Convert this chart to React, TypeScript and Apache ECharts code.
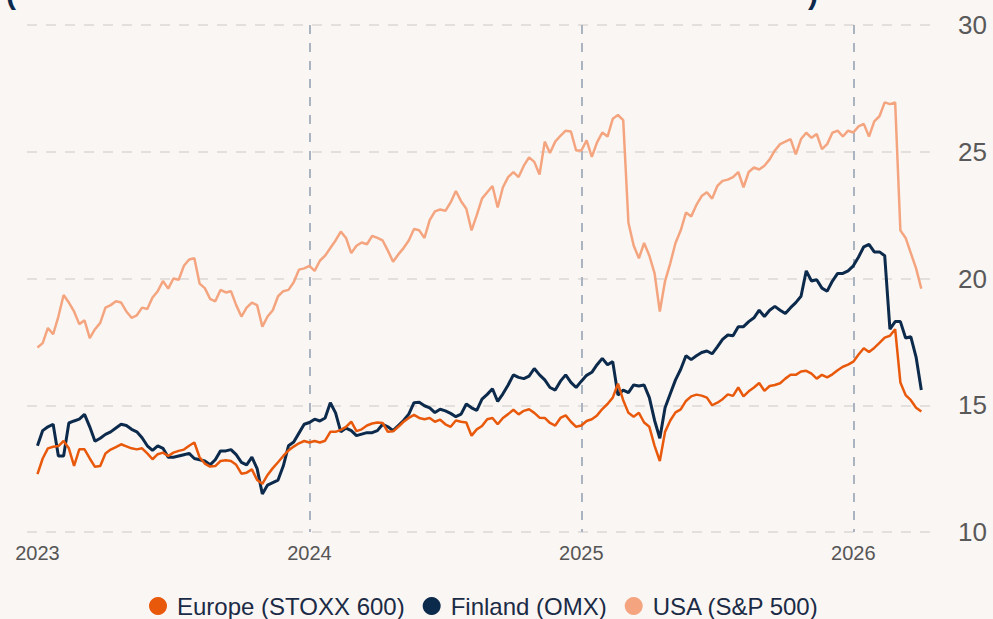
import React, { useEffect, useRef } from "react";
import * as echarts from "echarts";

// Weekly observations starting on this Monday
const startDate = "2023-01-02";
const yearLabels = ["2023", "2024", "2025", "2026"];
const seriesNames = ["Europe (STOXX 600)", "Finland (OMX)", "USA (S&P 500)"];

const europe = [
  12.28, 12.9, 13.3, 13.36, 13.39, 13.59, 13.3, 12.61, 13.26, 13.26,
  12.9, 12.57, 12.6, 13.1, 13.25, 13.35, 13.46, 13.38, 13.3, 13.26,
  13.3, 13.1, 12.87, 13.07, 13.13, 13.0, 13.13, 13.2, 13.25, 13.4,
  13.53, 12.95, 12.7, 12.58, 12.6, 12.8, 12.83, 12.8, 12.65, 12.3,
  12.34, 12.47, 12.05, 11.9, 12.25, 12.52, 12.75, 13.0, 13.22, 13.37,
  13.5, 13.59, 13.53, 13.59, 13.53, 13.6, 13.95, 13.95, 14.03, 14.15,
  14.35, 13.98, 14.05, 14.2, 14.28, 14.32, 14.3, 13.95, 13.97, 14.15,
  14.35, 14.5, 14.62, 14.5, 14.45, 14.5, 14.35, 14.43, 14.25, 14.15,
  14.4, 14.35, 14.32, 13.8, 14.05, 14.18, 14.45, 14.5, 14.25, 14.5,
  14.65, 14.82, 14.64, 14.78, 14.84, 14.7, 14.51, 14.5, 14.3, 14.2,
  14.5, 14.6, 14.35, 14.15, 14.2, 14.38, 14.45, 14.6, 14.85, 15.05,
  15.3, 15.85, 15.2, 14.7, 14.55, 14.7, 14.32, 14.15, 13.4, 12.8,
  13.95, 14.4, 14.72, 14.84, 15.17, 15.35, 15.42, 15.38, 15.3, 15.0,
  15.1, 15.24, 15.43, 15.37, 15.7, 15.35, 15.55, 15.7, 15.88, 15.57,
  15.76, 15.8, 15.87, 16.05, 16.2, 16.2, 16.33, 16.36, 16.25, 16.05,
  16.2, 16.1, 16.22, 16.38, 16.52, 16.6, 16.72, 17.0, 17.25, 17.1,
  17.26, 17.46, 17.67, 17.74, 18.0, 15.9, 15.4, 15.2, 14.9, 14.75,
];

const finland = [
  13.4, 14.0, 14.15, 14.25, 13.0, 13.0, 14.3, 14.38, 14.45, 14.64,
  14.15, 13.58, 13.7, 13.85, 13.95, 14.1, 14.25, 14.2, 14.05, 13.95,
  13.72, 13.4, 13.22, 13.4, 13.3, 12.95, 12.95, 13.0, 13.05, 13.1,
  12.9, 12.85, 12.8, 12.65, 12.85, 13.2, 13.2, 13.25, 13.05, 12.75,
  12.65, 12.95, 12.5, 11.5, 11.85, 11.95, 12.05, 12.6, 13.4, 13.55,
  13.9, 14.25, 14.32, 14.45, 14.38, 14.5, 15.1, 14.7, 13.95, 14.1,
  14.0, 13.8, 13.86, 13.92, 13.92, 14.0, 14.25, 14.15, 14.0, 14.2,
  14.4, 14.65, 15.1, 15.12, 14.98, 14.9, 14.71, 14.84, 14.78, 14.68,
  14.55, 14.65, 15.05, 14.9, 14.8, 15.24, 15.43, 15.65, 15.15, 15.45,
  15.8, 16.2, 16.1, 16.05, 16.15, 16.45, 16.2, 16.0, 15.7, 15.6,
  15.95, 16.2, 15.9, 15.7, 15.95, 16.18, 16.3, 16.6, 16.85, 16.6,
  16.72, 15.4, 15.6, 15.5, 15.8, 15.76, 15.8, 15.3, 14.4, 13.7,
  14.9, 15.45, 16.0, 16.42, 16.95, 16.8, 16.95, 17.08, 17.14, 17.03,
  17.3, 17.6, 17.77, 17.74, 18.1, 18.1, 18.3, 18.45, 18.75, 18.5,
  18.75, 18.9, 18.75, 18.62, 18.85, 19.05, 19.3, 20.3, 19.9, 19.95,
  19.62, 19.5, 19.9, 20.2, 20.2, 20.3, 20.5, 20.85, 21.25, 21.35,
  21.05, 21.05, 20.9, 18.0, 18.3, 18.3, 17.65, 17.7, 16.9, 15.6,
];

const usa = [
  17.28, 17.45, 18.05, 17.8, 18.5, 19.35, 19.05, 18.7, 18.2, 18.35,
  17.65, 18.0, 18.25, 18.85, 18.95, 19.1, 19.05, 18.7, 18.45, 18.55,
  18.85, 18.8, 19.25, 19.5, 19.9, 19.6, 20.0, 19.95, 20.5, 20.75,
  20.8, 19.8, 19.62, 19.2, 19.1, 19.55, 19.45, 19.5, 18.95, 18.5,
  18.85, 19.05, 18.95, 18.1, 18.5, 18.75, 19.3, 19.5, 19.55, 19.85,
  20.35, 20.4, 20.5, 20.3, 20.7, 20.9, 21.2, 21.5, 21.85, 21.6,
  21.0, 21.29, 21.42, 21.35, 21.68, 21.6, 21.5, 21.1, 20.66, 20.95,
  21.2, 21.5, 21.95, 21.9, 21.6, 22.3, 22.65, 22.72, 22.67, 23.0,
  23.45, 23.05, 22.75, 21.9, 22.5, 23.15, 23.4, 23.65, 22.8, 23.6,
  24.0, 24.2, 24.0, 24.45, 24.78, 24.6, 24.1, 25.4, 24.95, 25.4,
  25.63, 25.83, 25.8, 25.05, 25.05, 25.45, 24.8, 25.37, 25.76, 25.6,
  26.3, 26.45, 26.25, 22.2, 21.3, 20.8, 21.4, 20.9, 20.2, 18.7,
  19.9, 20.6, 21.4, 21.9, 22.6, 22.45, 22.9, 23.25, 23.4, 23.15,
  23.65, 23.85, 23.9, 24.0, 24.2, 23.6, 24.2, 24.38, 24.3, 24.45,
  24.7, 25.05, 25.3, 25.4, 25.5, 24.9, 25.5, 25.75, 25.55, 25.7,
  25.1, 25.3, 25.75, 25.83, 25.6, 25.83, 25.76, 26.0, 26.1, 25.6,
  26.2, 26.4, 26.95, 26.88, 26.95, 21.9, 21.6, 21.0, 20.4, 19.6,
];

const BG = "#faf6f3";
const FONT = "'Liberation Sans', Arial, sans-serif";
const COLORS = { europe: "#e8590c", finland: "#0c2a4b", usa: "#f4a57f" };

const DAY = 86400000;
const startMs = Date.parse(startDate + "T00:00:00Z");
const weeks: string[] = usa.map((_, i) =>
  new Date(startMs + i * 7 * DAY).toISOString().slice(0, 10)
);

// week index where each year label sits (first week reaching Jan 1 of that year)
const labelByDate: Record<string, string> = {};
const yearIdx: number[] = [];
yearLabels.forEach((y) => {
  const jan1 = Date.parse(y + "-01-01T00:00:00Z");
  const idx = weeks.findIndex((w) => Date.parse(w + "T00:00:00Z") + 6 * DAY >= jan1);
  if (idx >= 0) {
    labelByDate[weeks[idx]] = y;
    yearIdx.push(idx);
  }
});
const lineIdx = yearIdx.slice(1);

export default function App() {
  const ref = useRef<HTMLDivElement>(null);
  useEffect(() => {
    if (!ref.current) return;
    const chart = echarts.init(ref.current, null, { renderer: "svg" });
    chart.setOption({
      animation: false,
      backgroundColor: BG,
      textStyle: { fontFamily: FONT },
      graphic: [
        {
          type: "text",
          left: 6,
          top: -22,
          style: { text: "(", fontSize: 30, fontWeight: "bold", fill: "#0c2a4b", fontFamily: FONT },
        },
        {
          type: "text",
          left: 808,
          top: -22,
          style: { text: ")", fontSize: 30, fontWeight: "bold", fill: "#0c2a4b", fontFamily: FONT },
        },
      ],
      grid: { left: 27, right: 56, top: 25, bottom: 87 },
      legend: {
        data: seriesNames,
        left: 144,
        top: 589,
        icon: "circle",
        itemWidth: 18,
        itemHeight: 18,
        itemGap: 18,
        textStyle: {
          fontSize: 24,
          color: "#1b2b46",
          fontFamily: FONT,
          padding: [0, 0, 0, 5],
        },
      },
      xAxis: {
        type: "category",
        data: weeks,
        boundaryGap: false,
        min: -2,
        max: 172,
        axisLine: { show: false },
        axisTick: { show: false },
        axisLabel: {
          interval: (i: number) => yearIdx.includes(i),
          formatter: (v: string) => labelByDate[v] || "",
          fontSize: 20,
          color: "#555555",
          margin: 11,
          fontFamily: FONT,
        },
        splitLine: {
          show: true,
          interval: (i: number) => lineIdx.includes(i),
          lineStyle: { type: [9, 9], color: "#aab4c0", width: 2 },
        },
      },
      yAxis: {
        type: "value",
        position: "right",
        min: 10,
        max: 30,
        interval: 5,
        axisLine: { show: false },
        axisTick: { show: false },
        axisLabel: {
          fontSize: 26,
          color: "#595959",
          margin: 21,
          fontFamily: FONT,
        },
        splitLine: {
          show: true,
          lineStyle: { type: [10, 9], color: "#e2dfdc", width: 2 },
        },
      },
      series: [
        {
          name: seriesNames[2],
          type: "line",
          data: usa,
          showSymbol: false,
          symbol: "circle",
          color: COLORS.usa,
          lineStyle: { width: 2.5, color: COLORS.usa },
        },
        {
          name: seriesNames[1],
          type: "line",
          data: finland,
          showSymbol: false,
          symbol: "circle",
          color: COLORS.finland,
          lineStyle: { width: 3, color: COLORS.finland },
        },
        {
          name: seriesNames[0],
          type: "line",
          data: europe,
          showSymbol: false,
          symbol: "circle",
          color: COLORS.europe,
          lineStyle: { width: 2.5, color: COLORS.europe },
        },
      ],
    });
    return () => chart.dispose();
  }, []);
  return (
    <div
      ref={ref}
      style={{ position: "fixed", left: 0, top: 0, width: 993, height: 619, background: BG }}
    />
  );
}
